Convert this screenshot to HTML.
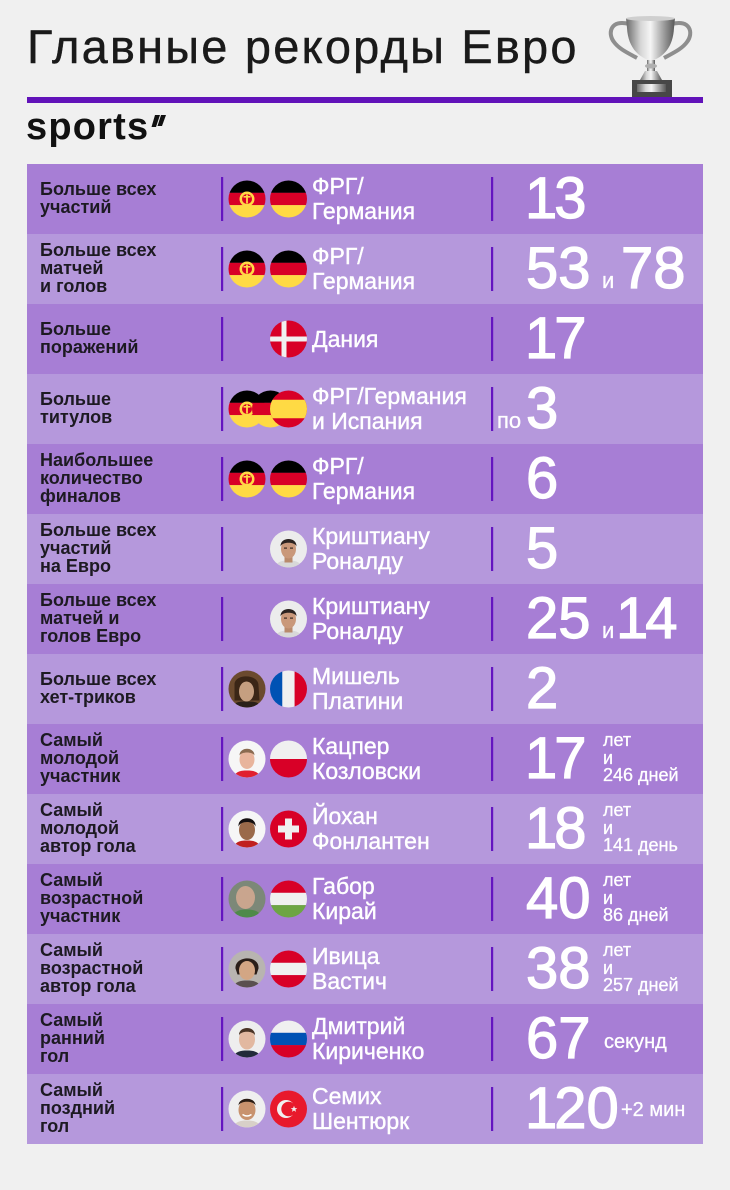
<!DOCTYPE html>
<html><head><meta charset="utf-8">
<style>
html,body{margin:0;padding:0}
body{width:730px;height:1190px;background:#f0f0f0;position:relative;overflow:hidden;font-family:"Liberation Sans","Noto Sans CJK SC",sans-serif}
.title{position:absolute;left:27px;top:23px;font-size:47px;line-height:47px;letter-spacing:2.2px;color:#1a1a1a;white-space:nowrap;-webkit-text-stroke:0.4px #1a1a1a}
.logo{position:absolute;left:26px;top:108px;font-size:38px;line-height:38px;font-weight:bold;letter-spacing:1.2px;color:#111;white-space:nowrap}
.r{position:absolute;left:27px;width:676px;height:70px}
.d{background:#a77ed5}
.lt{background:#b598dc}
.l{position:absolute;left:13px;top:-1px;height:70px;display:flex;align-items:center;font-weight:bold;font-size:18px;line-height:18px;color:#1d1a22;white-space:nowrap}
.n{position:absolute;left:285px;top:0;height:70px;display:flex;align-items:center;font-size:23px;line-height:25px;color:#fff;white-space:nowrap;-webkit-text-stroke:0.4px #fff}
.v{position:absolute;top:0;height:70px;line-height:70px;font-size:58px;color:#fff;left:499px;white-space:nowrap;-webkit-text-stroke:1.2px #fff}
.v1{left:498px}
.o{margin-right:-3px}
.s{position:absolute;color:#fff;white-space:nowrap;-webkit-text-stroke:0.3px #fff}
.i22{font-size:22px;line-height:22px;top:36px}
.three{font-size:18px;line-height:17.5px;top:8px;left:576px}
</style></head>
<body>
<div class="title">Главные рекорды Евро</div>
<div class="logo">sports</div>

<div class="r d" style="top:164px"><div class="l">Больше всех<br>участий</div><div class="n">ФРГ/<br>Германия</div><div class="v v1"><span class="o">1</span>3</div></div>
<div class="r lt" style="top:234px"><div class="l">Больше всех<br>матчей<br>и голов</div><div class="n">ФРГ/<br>Германия</div><div class="v">53</div><div class="s i22" style="left:575px">и</div><div class="v" style="left:594px">78</div></div>
<div class="r d" style="top:304px"><div class="l">Больше<br>поражений</div><div class="n">Дания</div><div class="v v1"><span class="o">1</span>7</div></div>
<div class="r lt" style="top:374px"><div class="l">Больше<br>титулов</div><div class="n">ФРГ/Германия<br>и Испания</div><div class="s i22" style="left:470px">по</div><div class="v">3</div></div>
<div class="r d" style="top:444px"><div class="l">Наибольшее<br>количество<br>финалов</div><div class="n">ФРГ/<br>Германия</div><div class="v">6</div></div>
<div class="r lt" style="top:514px"><div class="l">Больше всех<br>участий<br>на Евро</div><div class="n">Криштиану<br>Роналду</div><div class="v">5</div></div>
<div class="r d" style="top:584px"><div class="l">Больше всех<br>матчей и<br>голов Евро</div><div class="n">Криштиану<br>Роналду</div><div class="v">25</div><div class="s i22" style="left:575px">и</div><div class="v" style="left:589px"><span class="o">1</span>4</div></div>
<div class="r lt" style="top:654px"><div class="l">Больше всех<br>хет-триков</div><div class="n">Мишель<br>Платини</div><div class="v">2</div></div>
<div class="r d" style="top:724px"><div class="l">Самый<br>молодой<br>участник</div><div class="n">Кацпер<br>Козловски</div><div class="v v1"><span class="o">1</span>7</div><div class="s three">лет<br>и<br>246 дней</div></div>
<div class="r lt" style="top:794px"><div class="l">Самый<br>молодой<br>автор гола</div><div class="n">Йохан<br>Фонлантен</div><div class="v v1"><span class="o">1</span>8</div><div class="s three">лет<br>и<br>141 день</div></div>
<div class="r d" style="top:864px"><div class="l">Самый<br>возрастной<br>участник</div><div class="n">Габор<br>Кирай</div><div class="v">40</div><div class="s three">лет<br>и<br>86 дней</div></div>
<div class="r lt" style="top:934px"><div class="l">Самый<br>возрастной<br>автор гола</div><div class="n">Ивица<br>Вастич</div><div class="v">38</div><div class="s three">лет<br>и<br>257 дней</div></div>
<div class="r d" style="top:1004px"><div class="l">Самый<br>ранний<br>гол</div><div class="n">Дмитрий<br>Кириченко</div><div class="v">67</div><div class="s" style="font-size:20px;line-height:20px;top:28px;left:577px">секунд</div></div>
<div class="r lt" style="top:1074px"><div class="l">Самый<br>поздний<br>гол</div><div class="n">Семих<br>Шентюрк</div><div class="v v1"><span class="o">1</span>20</div><div class="s" style="font-size:20px;line-height:20px;top:26px;left:594px">+2 мин</div></div>

<svg style="position:absolute;left:0;top:0" width="730" height="1190" viewBox="0 0 730 1190">
<defs>
<clipPath id="cc"><circle cx="18.5" cy="18.5" r="18.5"/></clipPath>
<linearGradient id="silv" x1="0" x2="1" y1="0" y2="0"><stop offset="0" stop-color="#6a6a6a"/><stop offset=".3" stop-color="#d6d6d6"/><stop offset=".5" stop-color="#f5f5f5"/><stop offset=".75" stop-color="#a4a4a4"/><stop offset="1" stop-color="#575757"/></linearGradient>
<symbol id="de" viewBox="0 0 37 37"><g clip-path="url(#cc)"><rect width="37" height="12.4" fill="#000"/><rect y="12.3" width="37" height="12.4" fill="#d80027"/><rect y="24.6" width="37" height="12.4" fill="#ffda44"/></g></symbol>
<symbol id="ddr" viewBox="0 0 37 37"><g clip-path="url(#cc)"><rect width="37" height="12.4" fill="#000"/><rect y="12.3" width="37" height="12.4" fill="#d80027"/><rect y="24.6" width="37" height="12.4" fill="#ffda44"/><circle cx="18.5" cy="18.5" r="7.5" fill="#ffda44"/><circle cx="18.5" cy="18.5" r="5" fill="#d80027"/><rect x="17.6" y="14" width="1.8" height="9" fill="#ffda44"/><rect x="15" y="15.5" width="7" height="1.6" fill="#ffda44"/></g></symbol>
<symbol id="es" viewBox="0 0 37 37"><g clip-path="url(#cc)"><rect width="37" height="37" fill="#d80027"/><rect y="9.25" width="37" height="18.5" fill="#ffda44"/></g></symbol>
<symbol id="dk" viewBox="0 0 37 37"><g clip-path="url(#cc)"><rect width="37" height="37" fill="#d80027"/><rect x="11.5" width="5" height="37" fill="#f0f0f0"/><rect y="16" width="37" height="5" fill="#f0f0f0"/></g></symbol>
<symbol id="fr" viewBox="0 0 37 37"><g clip-path="url(#cc)"><rect width="12.4" height="37" fill="#0052b4"/><rect x="12.3" width="12.4" height="37" fill="#f0f0f0"/><rect x="24.6" width="12.4" height="37" fill="#d80027"/></g></symbol>
<symbol id="pl" viewBox="0 0 37 37"><g clip-path="url(#cc)"><rect width="37" height="18.5" fill="#f0f0f0"/><rect y="18.5" width="37" height="18.5" fill="#d80027"/></g></symbol>
<symbol id="ch" viewBox="0 0 37 37"><g clip-path="url(#cc)"><rect width="37" height="37" fill="#d80027"/><rect x="15" y="8" width="7" height="21" fill="#f0f0f0"/><rect x="8" y="15" width="21" height="7" fill="#f0f0f0"/></g></symbol>
<symbol id="hu" viewBox="0 0 37 37"><g clip-path="url(#cc)"><rect width="37" height="12.4" fill="#d80027"/><rect y="12.3" width="37" height="12.4" fill="#f0f0f0"/><rect y="24.6" width="37" height="12.4" fill="#6da544"/></g></symbol>
<symbol id="at" viewBox="0 0 37 37"><g clip-path="url(#cc)"><rect width="37" height="12.4" fill="#d80027"/><rect y="12.3" width="37" height="12.4" fill="#f0f0f0"/><rect y="24.6" width="37" height="12.4" fill="#d80027"/></g></symbol>
<symbol id="ru" viewBox="0 0 37 37"><g clip-path="url(#cc)"><rect width="37" height="12.4" fill="#f0f0f0"/><rect y="12.3" width="37" height="12.4" fill="#0052b4"/><rect y="24.6" width="37" height="12.4" fill="#d80027"/></g></symbol>
<symbol id="tr" viewBox="0 0 37 37"><g clip-path="url(#cc)"><rect width="37" height="37" fill="#e8192c"/><circle cx="16" cy="18.5" r="9" fill="#f0f0f0"/><circle cx="18.6" cy="18.5" r="7.3" fill="#e8192c"/><polygon points="24,15.3 24.9,17.6 27.3,17.6 25.4,19.1 26.1,21.4 24,20 21.9,21.4 22.6,19.1 20.7,17.6 23.1,17.6" fill="#f0f0f0"/></g></symbol>
<symbol id="ron" viewBox="0 0 37 37"><g clip-path="url(#cc)"><rect width="37" height="37" fill="#ececec"/><path d="M5,37 C7,31 12,30 18.5,30 C25,30 30,31 32,37Z" fill="#d8d8d8"/><rect x="14.5" y="24" width="8" height="8" fill="#b98a6c"/><ellipse cx="18.5" cy="18.5" rx="7.5" ry="9.5" fill="#c9987a"/><path d="M10.5,16 C10,6 27,6 26.5,16 C25,11 12,11 10.5,16Z" fill="#2b2320"/><rect x="14" y="17" width="3" height="1.2" fill="#3a2a22"/><rect x="20" y="17" width="3" height="1.2" fill="#3a2a22"/></g></symbol>
<symbol id="plat" viewBox="0 0 37 37"><g clip-path="url(#cc)"><rect width="37" height="37" fill="#6b4a2e"/><path d="M6,14 C6,3 30,3 30,15 L31,30 L6,30Z" fill="#3b2616"/><ellipse cx="18" cy="21" rx="7.5" ry="10" fill="#c59f80"/><path d="M3,37 C6,31 12,31 18,31 C25,31 30,31 33,37Z" fill="#2a2018"/></g></symbol>
<symbol id="koz" viewBox="0 0 37 37"><g clip-path="url(#cc)"><rect width="37" height="37" fill="#f6f6f6"/><path d="M5,37 C7,31 12,30 18.5,30 C25,30 30,31 32,37Z" fill="#e02030"/><ellipse cx="18.5" cy="19" rx="7.5" ry="9.5" fill="#e8b49c"/><path d="M11,15 C11,6 26,6 26,15 C24,11 13,11 11,15Z" fill="#8a6a50"/></g></symbol>
<symbol id="fon" viewBox="0 0 37 37"><g clip-path="url(#cc)"><rect width="37" height="37" fill="#f6f6f6"/><path d="M5,37 C7,31 12,30 18.5,30 C25,30 30,31 32,37Z" fill="#c02020"/><ellipse cx="18.5" cy="19.5" rx="8" ry="10" fill="#9a6a4a"/><path d="M10,16 C9,5 28,5 27,16 C25,10 12,10 10,16Z" fill="#151010"/></g></symbol>
<symbol id="kir" viewBox="0 0 37 37"><g clip-path="url(#cc)"><rect width="37" height="37" fill="#7c8878"/><ellipse cx="17" cy="17" rx="9.5" ry="11.5" fill="#c9a58e"/><path d="M3,37 C6,30 12,29 18,29 C25,29 30,30 34,37Z" fill="#4e8a4a"/></g></symbol>
<symbol id="vas" viewBox="0 0 37 37"><g clip-path="url(#cc)"><rect width="37" height="37" fill="#b8b4b0"/><path d="M7,18 C6,5 31,4 30,18 L28,24 L9,24Z" fill="#2a1e18"/><ellipse cx="18.5" cy="20" rx="8" ry="9.5" fill="#d3a684"/><path d="M4,37 C7,31 12,30 18.5,30 C25,30 30,31 33,37Z" fill="#5a5050"/></g></symbol>
<symbol id="kch" viewBox="0 0 37 37"><g clip-path="url(#cc)"><rect width="37" height="37" fill="#eeeeee"/><path d="M4,37 C7,31 12,30 18.5,30 C25,30 30,31 33,37Z" fill="#222a3a"/><ellipse cx="18.5" cy="19" rx="8" ry="10" fill="#e2b8a0"/><path d="M10.5,15 C10,5 27,5 26.5,15 C25,10 12,10 10.5,15Z" fill="#4a3426"/></g></symbol>
<symbol id="sen" viewBox="0 0 37 37"><g clip-path="url(#cc)"><rect width="37" height="37" fill="#efefef"/><path d="M4,37 C7,31 12,30 18.5,30 C25,30 30,31 33,37Z" fill="#d8d0c8"/><ellipse cx="18.5" cy="19.5" rx="8.5" ry="10" fill="#c8926e"/><path d="M10,15 C10,6 27,6 27,15 C25,10 12,10 10,15Z" fill="#2a1c14"/><path d="M14,24 Q18.5,27 23,24" stroke="#fff" stroke-width="1.5" fill="none"/></g></symbol>
</defs>

<rect x="27" y="97" width="676" height="6" fill="#6112b9"/>
<polygon points="155,115 160,115 156,127 151.5,127" fill="#111"/>
<polygon points="161,115 166,115 162,126 157.5,126" fill="#111"/>
<path d="M629,24 C611,19 607,33 614,42 C619,49 628,53 637,58" stroke="#8e8e8e" stroke-width="4" fill="none"/>
<path d="M672,24 C690,19 694,33 687,42 C682,49 673,53 664,58" stroke="#8e8e8e" stroke-width="4" fill="none"/>
<path d="M626,18 L675,18 L674,28 C673,47 664,57 651,61 C638,57 628,47 627,28 Z" fill="url(#silv)"/>
<ellipse cx="650.5" cy="18.5" rx="24.5" ry="2.5" fill="#cfcfcf"/>
<rect x="647" y="60" width="8" height="12" fill="url(#silv)"/>
<ellipse cx="651" cy="66" rx="6" ry="2.5" fill="#b0b0b0"/>
<path d="M640,80 L662,80 L657,71 L645,71 Z" fill="url(#silv)"/>
<rect x="632" y="80" width="40" height="17" fill="#474747"/>
<rect x="637" y="84" width="29" height="8" fill="url(#silv)"/>

<g fill="#6414c0">
<rect x="221" y="177" width="2.2" height="44"/><rect x="491" y="177" width="2.2" height="44"/>
<rect x="221" y="247" width="2.2" height="44"/><rect x="491" y="247" width="2.2" height="44"/>
<rect x="221" y="317" width="2.2" height="44"/><rect x="491" y="317" width="2.2" height="44"/>
<rect x="221" y="387" width="2.2" height="44"/><rect x="491" y="387" width="2.2" height="44"/>
<rect x="221" y="457" width="2.2" height="44"/><rect x="491" y="457" width="2.2" height="44"/>
<rect x="221" y="527" width="2.2" height="44"/><rect x="491" y="527" width="2.2" height="44"/>
<rect x="221" y="597" width="2.2" height="44"/><rect x="491" y="597" width="2.2" height="44"/>
<rect x="221" y="667" width="2.2" height="44"/><rect x="491" y="667" width="2.2" height="44"/>
<rect x="221" y="737" width="2.2" height="44"/><rect x="491" y="737" width="2.2" height="44"/>
<rect x="221" y="807" width="2.2" height="44"/><rect x="491" y="807" width="2.2" height="44"/>
<rect x="221" y="877" width="2.2" height="44"/><rect x="491" y="877" width="2.2" height="44"/>
<rect x="221" y="947" width="2.2" height="44"/><rect x="491" y="947" width="2.2" height="44"/>
<rect x="221" y="1017" width="2.2" height="44"/><rect x="491" y="1017" width="2.2" height="44"/>
<rect x="221" y="1087" width="2.2" height="44"/><rect x="491" y="1087" width="2.2" height="44"/>
</g>

<use href="#ddr" x="228.5" y="180.5" width="37" height="37"/><use href="#de" x="270" y="180.5" width="37" height="37"/>
<use href="#ddr" x="228.5" y="250.5" width="37" height="37"/><use href="#de" x="270" y="250.5" width="37" height="37"/>
<use href="#dk" x="270" y="320.5" width="37" height="37"/>
<use href="#ddr" x="228.5" y="390.5" width="37" height="37"/><use href="#de" x="252" y="390.5" width="37" height="37"/><use href="#es" x="270" y="390.5" width="37" height="37"/>
<use href="#ddr" x="228.5" y="460.5" width="37" height="37"/><use href="#de" x="270" y="460.5" width="37" height="37"/>
<use href="#ron" x="270" y="530.5" width="37" height="37"/>
<use href="#ron" x="270" y="600.5" width="37" height="37"/>
<use href="#plat" x="228.5" y="670.5" width="37" height="37"/><use href="#fr" x="270" y="670.5" width="37" height="37"/>
<use href="#koz" x="228.5" y="740.5" width="37" height="37"/><use href="#pl" x="270" y="740.5" width="37" height="37"/>
<use href="#fon" x="228.5" y="810.5" width="37" height="37"/><use href="#ch" x="270" y="810.5" width="37" height="37"/>
<use href="#kir" x="228.5" y="880.5" width="37" height="37"/><use href="#hu" x="270" y="880.5" width="37" height="37"/>
<use href="#vas" x="228.5" y="950.5" width="37" height="37"/><use href="#at" x="270" y="950.5" width="37" height="37"/>
<use href="#kch" x="228.5" y="1020.5" width="37" height="37"/><use href="#ru" x="270" y="1020.5" width="37" height="37"/>
<use href="#sen" x="228.5" y="1090.5" width="37" height="37"/><use href="#tr" x="270" y="1090.5" width="37" height="37"/>
</svg>
</body></html>
